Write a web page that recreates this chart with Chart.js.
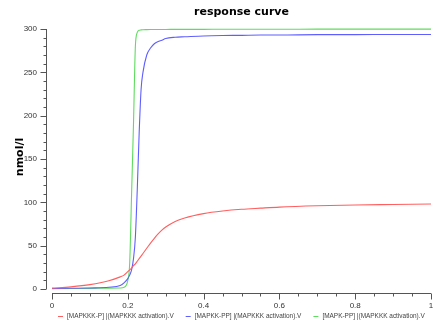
<!DOCTYPE html>
<html lang="en">
<head>
    <meta charset="UTF-8">
    <title>response curve</title>
    <script src="https://cdn.jsdelivr.net/npm/chart.js"></script>
    <style>
        html, body { margin: 0; padding: 0; background: #fff; }
        #wrap { width: 436px; height: 322px; }
    </style>
</head>
<body>
    <div id="wrap"><canvas id="responseChart" width="436" height="322"></canvas></div>
    <script>
        // sampled x values (MAPKKK activation V)
        const xValues = [0, 0.05, 0.1, 0.15, 0.18, 0.19, 0.2, 0.205, 0.21, 0.215, 0.22, 0.225, 0.23, 0.235, 0.24, 0.25, 0.26, 0.27, 0.28, 0.29, 0.3, 0.325, 0.35, 0.4, 0.45, 0.5, 0.55, 0.6, 0.7, 0.8, 0.9, 1.0];
        const mapkkkP = [1, 2.5, 5, 9.5, 14, 16, 20, 22, 24, 27, 29, 32, 35, 38, 41, 47, 53, 58.5, 63.5, 68, 71.5, 78, 82, 87, 90, 92, 93.3, 94.5, 96, 97, 97.5, 98];
        const mapkkPP = [0.5, 0.8, 1.2, 2, 4, 7, 12, 16, 22, 35, 60, 115, 180, 230, 250, 270, 278, 283, 285.5, 287, 289, 290.5, 291, 292, 292.5, 292.7, 293, 293, 293.5, 293.5, 293.7, 293.7];
        const mapkPP = [0.3, 0.5, 0.7, 1, 1.2, 2, 10, 30, 110, 190, 280, 296, 298.5, 299, 299.2, 299.3, 299.4, 299.5, 299.5, 299.5, 299.5, 299.6, 299.6, 299.6, 299.7, 299.7, 299.7, 299.7, 299.8, 299.8, 299.8, 299.8];

        const seriesLabels = ['[MAPKKK-P] |(MAPKKK activation).V', '[MAPKK-PP] |(MAPKKK activation).V', '[MAPK-PP] |(MAPKKK activation).V'];
        const seriesColors = ['rgb(255,95,95)', 'rgb(95,95,255)', 'rgb(95,220,95)'];
        const xTicks = [0, 0.2, 0.4, 0.6, 0.8, 1];
        const yTicks = [0, 50, 100, 150, 200, 250, 300];

        function points(ys) {
            return xValues.map((x, i) => ({ x: x, y: ys[i] }));
        }

        // axes, labels, title and legend drawn in the old-fashioned detached style
        const decorations = {
            id: 'decorations',
            afterDraw(chart) {
                const ctx = chart.ctx;
                const sx = chart.scales.x, sy = chart.scales.y;
                const area = chart.chartArea;
                const axisX = area.left - 6;
                const axisY = area.bottom + 4;
                ctx.save();
                ctx.strokeStyle = '#555';
                ctx.lineWidth = 1;

                // y axis
                ctx.beginPath();
                ctx.moveTo(axisX + 0.5, sy.getPixelForValue(0));
                ctx.lineTo(axisX + 0.5, sy.getPixelForValue(300));
                for (let v = 0; v <= 300; v += 10) {
                    const py = Math.round(sy.getPixelForValue(v)) + 0.5;
                    const len = v % 50 === 0 ? 6 : 3;
                    ctx.moveTo(axisX + 0.5 - len, py);
                    ctx.lineTo(axisX + 0.5, py);
                }
                // x axis
                ctx.moveTo(sx.getPixelForValue(0), axisY + 0.5);
                ctx.lineTo(sx.getPixelForValue(1), axisY + 0.5);
                for (let i = 0; i <= 20; i++) {
                    const px = Math.round(sx.getPixelForValue(i * 0.05)) + 0.5;
                    const len = i % 4 === 0 ? 6 : 3;
                    ctx.moveTo(px, axisY + 0.5);
                    ctx.lineTo(px, axisY + 0.5 + len);
                }
                ctx.stroke();

                ctx.fillStyle = '#333';
                ctx.font = '8px "Liberation Sans"';
                ctx.textAlign = 'right';
                ctx.textBaseline = 'middle';
                yTicks.forEach(v => ctx.fillText(String(v), axisX - 9, sy.getPixelForValue(v)));
                ctx.textAlign = 'center';
                ctx.textBaseline = 'top';
                xTicks.forEach(v => ctx.fillText(String(v), sx.getPixelForValue(v), axisY + 9));

                // title
                ctx.fillStyle = '#000';
                ctx.font = 'bold 11px "DejaVu Sans"';
                ctx.textBaseline = 'middle';
                ctx.fillText('response curve', (area.left + area.right) / 2, 12);

                // y title
                ctx.save();
                ctx.translate(20, (area.top + area.bottom) / 2 - 2);
                ctx.rotate(-Math.PI / 2);
                ctx.font = 'bold 11px "DejaVu Sans"';
                ctx.fillText('nmol/l', 0, 0);
                ctx.restore();

                // legend (narrow text, squeezed horizontally)
                ctx.font = '7.5px "Liberation Sans"';
                ctx.textAlign = 'left';
                const squeeze = 0.86;
                const gap = 12, dash = 5, pad = 4;
                const widths = seriesLabels.map(t => dash + pad + ctx.measureText(t).width * squeeze);
                const total = widths.reduce((a, b) => a + b, 0) + gap * (widths.length - 1);
                let lx = Math.round((area.left + area.right) / 2 - total / 2);
                const ly = 316;
                seriesLabels.forEach((t, i) => {
                    ctx.strokeStyle = seriesColors[i];
                    ctx.beginPath();
                    ctx.moveTo(lx, ly + 0.5);
                    ctx.lineTo(lx + dash, ly + 0.5);
                    ctx.stroke();
                    ctx.save();
                    ctx.translate(lx + dash + pad, ly);
                    ctx.scale(squeeze, 1);
                    ctx.fillStyle = '#444';
                    ctx.fillText(t, 0, 0);
                    ctx.restore();
                    lx += widths[i] + gap;
                });
                ctx.restore();
            }
        };

        new Chart(document.getElementById('responseChart'), {
            type: 'line',
            data: {
                datasets: [mapkkkP, mapkkPP, mapkPP].map((ys, i) => ({
                    label: seriesLabels[i],
                    data: points(ys),
                    borderColor: seriesColors[i],
                    backgroundColor: seriesColors[i],
                    borderWidth: 1.1,
                    pointRadius: 0,
                    cubicInterpolationMode: 'monotone',
                    clip: false
                }))
            },
            options: {
                responsive: false,
                animation: false,
                layout: { padding: { left: 52, right: 5, top: 29, bottom: 33 } },
                plugins: {
                    legend: { display: false },
                    title: { display: false },
                    tooltip: { enabled: false }
                },
                scales: {
                    x: { type: 'linear', min: 0, max: 1, display: false },
                    y: { min: 0, max: 300, display: false }
                }
            },
            plugins: [decorations]
        });
    </script>
</body>
</html>
